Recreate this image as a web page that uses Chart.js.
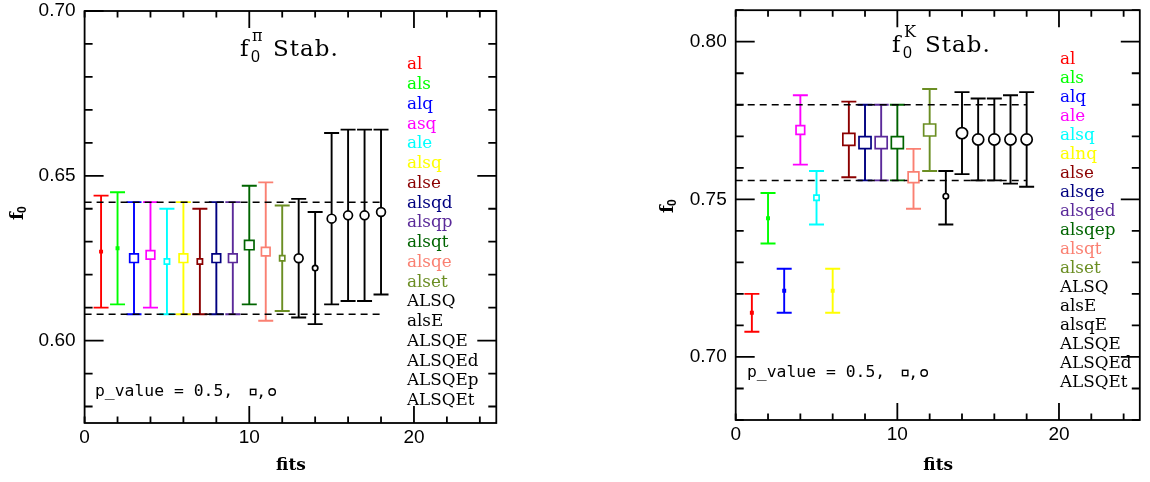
<!DOCTYPE html>
<html><head><meta charset="utf-8">
<script src="https://cdn.jsdelivr.net/npm/chart.js@4.4.1/dist/chart.umd.min.js"></script>
<style>
html,body{margin:0;padding:0;background:#fff;}
#wrap{position:relative;width:1150px;height:482px;overflow:hidden;}
.c{position:absolute;top:0;width:575px;height:482px;}
</style></head><body>
<div id="wrap">
<div class="c" style="left:0"><canvas id="cL" width="575" height="482"></canvas></div>
<div class="c" style="left:575px"><canvas id="cR" width="575" height="482"></canvas></div>
</div>
<script>
// ---------------- DATA ----------------
const fitIndex = [1,2,3,4,5,6,7,8,9,10,11,12,13,14,15,16,17,18];

const piSeries  = ['al','als','alq','asq','ale','alsq','alse','alsqd','alsqp','alsqt','alsqe','alset','ALSQ','alsE','ALSQE','ALSQEd','ALSQEp','ALSQEt'];
const piValue   = [0.627,0.628,0.625,0.626,0.624,0.625,0.624,0.625,0.625,0.629,0.627,0.625,0.625,0.622,0.637,0.638,0.638,0.639];
const piErrLow  = [0.610,0.611,0.608,0.610,0.608,0.608,0.608,0.608,0.608,0.611,0.606,0.609,0.607,0.605,0.611,0.612,0.612,0.614];
const piErrHigh = [0.644,0.645,0.642,0.642,0.640,0.642,0.640,0.642,0.642,0.647,0.648,0.641,0.643,0.639,0.663,0.664,0.664,0.664];
const piBand    = [0.608, 0.642];

const kSeries   = ['al','als','alq','ale','alsq','alnq','alse','alsqe','alsqed','alsqep','alsqt','alset','ALSQ','alsE','alsqE','ALSQE','ALSQEd','ALSQEt'];
const kValue    = [0.714,0.744,0.721,0.772,0.7505,0.721,0.769,0.768,0.768,0.768,0.757,0.772,0.751,0.771,0.769,0.769,0.769,0.769];
const kErrLow   = [0.708,0.736,0.714,0.761,0.742,0.714,0.757,0.756,0.756,0.756,0.747,0.759,0.742,0.758,0.756,0.756,0.755,0.754];
const kErrHigh  = [0.720,0.752,0.728,0.783,0.759,0.728,0.781,0.780,0.780,0.780,0.766,0.785,0.759,0.784,0.782,0.782,0.783,0.784];
const kBand     = [0.756, 0.780];

const bandX     = [0, 18];
const xTickLabels  = [0, 10, 20];
const piYTickLabels = [0.60, 0.65, 0.70];
const kYTickLabels  = [0.70, 0.75, 0.80];

// ---------------- STYLE ----------------
const seriesColors = ['#ff0000','#00ff00','#0000ff','#ff00ff','#00ffff','#ffff00','#8b0000','#000080','#5b2a9a','#006400','#fa8072','#6b8e23',
                      '#000000','#000000','#000000','#000000','#000000','#000000'];
// marker kind per point: [style, radius, filled]
const MK = {
  dot:['rect',1.6,true], sqS:['rect',3.7,false], sqM:['rect',6.1,false], sqM2:['rect',6.7,false],
  sqL:['rect',8.5,false], sqL2:['rect',7.6,false], ciS:['circle',2.7,false], ciM:['circle',4.4,false], ciL:['circle',5.6,false]
};
const piMarkers = ['dot','dot','sqM','sqM','sqS','sqM','sqS','sqM','sqM','sqM2','sqM','sqS','ciM','ciS','ciM','ciM','ciM','ciM'];
const kMarkers  = ['dot','dot','dot','sqM','sqS','dot','sqL','sqL','sqL','sqL','sqL2','sqL','ciS','ciL','ciL','ciL','ciL','ciL'];

const SERIF = "'DejaVu Serif', 'Liberation Serif', serif";
const SANS = "'Liberation Sans', Arial, sans-serif";
const MONO = "'DejaVu Sans Mono', 'Liberation Mono', monospace";

// ---------------- PLUGINS ----------------
const errorBars = {
  id: 'errorBars',
  beforeDatasetsDraw(chart) {
    const {ctx, scales:{x, y}} = chart;
    ctx.save();
    chart.data.datasets.forEach(ds => {
      if (ds.errLow === undefined) return;
      const px = x.getPixelForValue(ds.data[0].x);
      const yl = y.getPixelForValue(ds.errLow), yh = y.getPixelForValue(ds.errHigh);
      ctx.strokeStyle = ds.borderColor; ctx.lineWidth = 1.9;
      ctx.beginPath();
      ctx.moveTo(px, yl); ctx.lineTo(px, yh);
      ctx.moveTo(px-7.5, yl); ctx.lineTo(px+7.5, yl);
      ctx.moveTo(px-7.5, yh); ctx.lineTo(px+7.5, yh);
      ctx.stroke();
    });
    ctx.restore();
  }
};

const frame = {
  id: 'frame',
  afterDraw(chart) {
    const {ctx, chartArea:a, scales:{x, y}} = chart;
    ctx.save();
    ctx.strokeStyle = '#000'; ctx.lineWidth = 1.8;
    ctx.strokeRect(a.left, a.top, a.right - a.left, a.bottom - a.top);
    ctx.beginPath();
    const xt = [];
    for (let v = 0; v <= 24; v += 2) xt.push([v, false]);
    xt.push([10, true]); xt.push([20, true]);
    xt.forEach(([v, major]) => {
      const px = x.getPixelForValue(v); const L = major ? 17 : 6.5;
      ctx.moveTo(px, a.top); ctx.lineTo(px, a.top + L);
      ctx.moveTo(px, a.bottom); ctx.lineTo(px, a.bottom - L);
    });
    for (let k = Math.ceil(y.min*100 - 1e-6); k <= Math.floor(y.max*100 + 1e-6); k++) {
      const v = k / 100; const major = k % 5 === 0; const L = major ? 19 : 8;
      const py = y.getPixelForValue(v);
      ctx.moveTo(a.left, py); ctx.lineTo(a.left + L, py);
      ctx.moveTo(a.right, py); ctx.lineTo(a.right - L, py);
    }
    ctx.stroke();
    ctx.restore();
  }
};

const texts = {
  id: 'texts',
  afterDraw(chart, args, o) {
    const {ctx, chartArea:a} = chart;
    ctx.save();
    ctx.textBaseline = 'alphabetic';
    // title
    ctx.fillStyle = '#000';
    ctx.font = '23px ' + SERIF;
    ctx.fillText('f', o.title.x, o.title.y);
    ctx.font = '16px ' + SANS;
    ctx.fillText('0', o.title.x + 11, o.title.y + 6);
    ctx.font = '16px ' + SERIF;
    ctx.fillText(o.title.sup, o.title.x + 12, o.title.y - 15);
    ctx.font = '23px ' + SERIF;
    ctx.letterSpacing = '1px';
    ctx.fillText('Stab.', o.title.x + 33, o.title.y);
    ctx.letterSpacing = '0px';
    // legend
    ctx.font = '16.8px ' + SERIF;
    ctx.textBaseline = 'middle';
    chart.data.datasets.forEach((ds, i) => {
      if (ds.errLow === undefined) return;
      ctx.fillStyle = ds.borderColor;
      ctx.fillText(ds.label, o.legend.x, o.legend.y + i * o.legend.dy);
    });
    // p_value annotation
    ctx.fillStyle = '#000';
    ctx.font = '16.4px ' + MONO;
    ctx.fillText('p_value = 0.5,', o.pv.x, o.pv.y);
    const w = ctx.measureText('p_value = 0.5,').width;
    ctx.strokeStyle = '#000'; ctx.lineWidth = 1.4;
    const sx = o.pv.x + w + 20;
    ctx.strokeRect(sx - 2.7, o.pv.y - 2.7, 5.4, 5.4);
    ctx.fillText(',', sx + 3, o.pv.y + 1);
    ctx.beginPath(); ctx.arc(sx + 19, o.pv.y, 3.2, 0, Math.PI*2); ctx.stroke();
    // x title
    ctx.font = 'bold 17px ' + SERIF;
    ctx.textAlign = 'center';
    ctx.fillText('fits', (a.left + a.right) / 2 + 0.5, 466);
    // y title
    ctx.save();
    ctx.translate(o.ytitle.x, o.ytitle.y);
    ctx.rotate(-Math.PI / 2);
    ctx.textAlign = 'left';
    ctx.font = 'bold 18px ' + SERIF;
    ctx.fillText('f', -8, 0);
    ctx.font = 'bold 12px ' + SANS;
    ctx.fillText('0', -1, 5);
    ctx.restore();
    ctx.restore();
  }
};

// ---------------- BUILD ----------------
function buildChart(canvasId, names, vals, lows, highs, band, markers, yMin, yMax, yTicks, pad, yAxisWidth, textOpts) {
  const datasets = names.map((n, i) => {
    const m = MK[markers[i]];
    return {
      type: 'scatter', label: n,
      data: [{x: fitIndex[i], y: vals[i]}],
      errLow: lows[i], errHigh: highs[i],
      borderColor: seriesColors[i],
      backgroundColor: m[2] ? seriesColors[i] : '#ffffff',
      pointStyle: m[0], pointRadius: m[1], pointBorderWidth: 1.7, pointHoverRadius: m[1]
    };
  });
  band.forEach(b => datasets.push({
    type: 'line', label: 'band',
    data: bandX.map(xv => ({x: xv, y: b})),
    borderColor: '#000', borderWidth: 1.5, borderDash: [7, 5], pointRadius: 0, fill: false
  }));
  return new Chart(document.getElementById(canvasId), {
    type: 'scatter',
    data: { datasets },
    options: {
      responsive: false, animation: false, devicePixelRatio: 1,
      layout: { padding: pad },
      plugins: { legend: {display: false}, tooltip: {enabled: false}, texts: textOpts },
      scales: {
        x: {
          type: 'linear', min: 0, max: 25,
          grid: {display: false, drawTicks: false}, border: {display: false},
          afterBuildTicks: s => { s.ticks = xTickLabels.map(v => ({value: v})); },
          afterFit: s => { s.height = 482 - pad.top - pad.bottom - textOpts.plotH; s.paddingLeft = 0; s.paddingRight = 0; },
          ticks: { color: '#000', font: {family: SANS, size: 19}, padding: 3, maxRotation: 0, autoSkip: false,
                   callback: v => String(v) }
        },
        y: {
          type: 'linear', min: yMin, max: yMax,
          grid: {display: false, drawTicks: false}, border: {display: false},
          afterBuildTicks: s => { s.ticks = yTicks.map(v => ({value: v})); },
          afterFit: s => { s.width = yAxisWidth; s.paddingTop = 0; s.paddingBottom = 0; },
          ticks: { color: '#000', font: {family: SANS, size: 19}, padding: 9, autoSkip: false,
                   callback: v => Number(v).toFixed(2) }
        }
      }
    },
    plugins: [errorBars, frame, texts]
  });
}

buildChart('cL', piSeries, piValue, piErrLow, piErrHigh, piBand, piMarkers, 0.575, 0.70, piYTickLabels,
  {left: 0, top: 11, right: 78.7, bottom: 0}, 84.6,
  {plotH: 412, title: {x: 240, y: 56, sup: 'π'}, legend: {x: 407, y: 65, dy: 19.75},
   pv: {x: 95, y: 392}, ytitle: {x: 18, y: 212}});

buildChart('cR', kSeries, kValue, kErrLow, kErrHigh, kBand, kMarkers, 0.68, 0.81, kYTickLabels,
  {left: 0, top: 8, right: 3, bottom: 0}, 160.7,
  {plotH: 412, title: {x: 892 - 575, y: 52, sup: 'K'}, legend: {x: 1060 - 575, y: 60, dy: 19.0},
   pv: {x: 747 - 575, y: 373}, ytitle: {x: 668 - 575, y: 205}});
</script>
</body></html>
